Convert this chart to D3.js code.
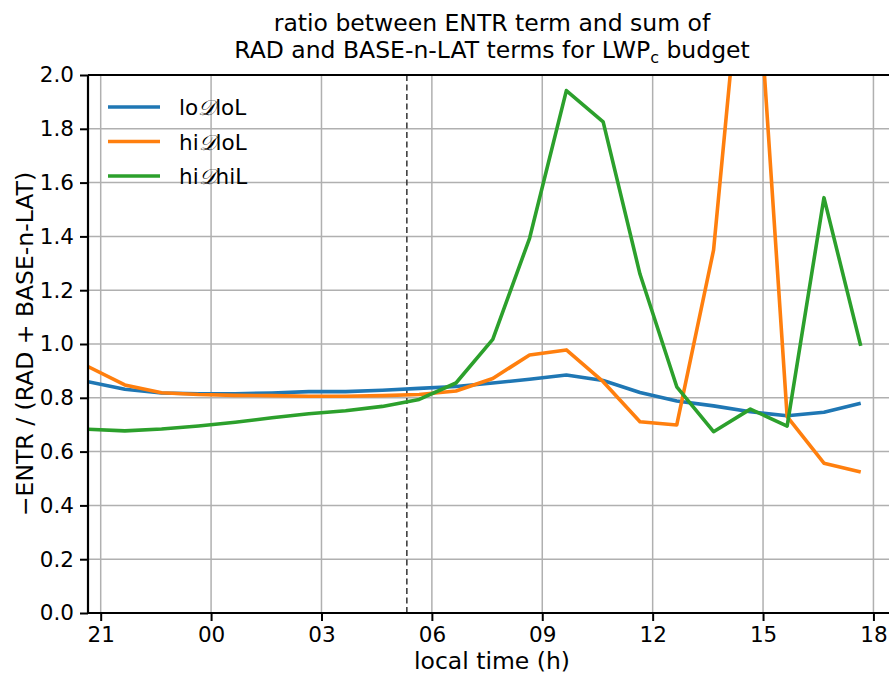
<!DOCTYPE html>
<html>
<head>
<meta charset="utf-8">
<script src="https://cdn.jsdelivr.net/npm/d3@7"></script>
<style>
  body { margin: 0; background: #fff; }
  svg text { font-family: "DejaVu Sans", sans-serif; fill: #000; }
  .grid line { stroke: #b0b0b0; stroke-width: 1.5; }
</style>
</head>
<body>
<div id="chart"></div>
<script>
// local time in hours (hours after 24 are the next day)
var hours = [20.655, 21.655, 22.655, 23.655, 24.655, 25.655, 26.655, 27.655, 28.655, 29.655, 30.655,
             31.655, 32.655, 33.655, 34.655, 35.655, 36.655, 37.655, 38.655, 39.655, 40.655, 41.655];

var loDloL = [0.860, 0.832, 0.818, 0.815, 0.815, 0.818, 0.823, 0.823, 0.828, 0.835, 0.842,
              0.855, 0.869, 0.885, 0.864, 0.820, 0.788, 0.770, 0.748, 0.733, 0.746, 0.780];
var hiDloL = [0.916, 0.848, 0.819, 0.812, 0.809, 0.808, 0.806, 0.806, 0.808, 0.812, 0.825,
              0.872, 0.959, 0.978, 0.860, 0.711, 0.699, 1.349, 2.790, 0.730, 0.557, 0.524];
var hiDhiL = [0.683, 0.677, 0.684, 0.695, 0.709, 0.726, 0.741, 0.752, 0.768, 0.794, 0.855,
              1.017, 1.393, 1.942, 1.826, 1.260, 0.841, 0.674, 0.758, 0.695, 1.544, 0.993];

var seriesNames = ["lo", "hi", "hi"];
var seriesTails = ["loL", "loL", "hiL"];
var seriesColors = ["#1f77b4", "#ff7f0e", "#2ca02c"];

var xTicks = [21, 24, 27, 30, 33, 36, 39, 42];
var yTicks = [0, 0.2, 0.4, 0.6, 0.8, 1.0, 1.2, 1.4, 1.6, 1.8, 2.0];
var sunrise = 29.32;

var width = 889, height = 677;
var margin = {top: 75, right: -1, bottom: 64, left: 88};
var innerW = width - margin.left - margin.right,
    innerH = height - margin.top - margin.bottom;

var svg = d3.select("#chart").append("svg")
    .attr("width", width)
    .attr("height", height);

var x = d3.scaleLinear().domain([20.655, 42.45]).range([0, innerW]);
var y = d3.scaleLinear().domain([0, 2.0]).range([innerH, 0]);

var g = svg.append("g")
    .attr("transform", "translate(" + margin.left + "," + margin.top + ")");

g.append("clipPath").attr("id", "clip")
  .append("rect").attr("width", innerW).attr("height", innerH);

// grid
var grid = g.append("g").attr("class", "grid");
grid.selectAll("line.v").data(xTicks).enter().append("line")
    .attr("x1", function(d) { return x(d); }).attr("x2", function(d) { return x(d); })
    .attr("y1", 0).attr("y2", innerH);
grid.selectAll("line.h").data(yTicks).enter().append("line")
    .attr("x1", 0).attr("x2", innerW)
    .attr("y1", function(d) { return y(d); }).attr("y2", function(d) { return y(d); });

// sunrise marker
g.append("line")
    .attr("x1", x(sunrise)).attr("x2", x(sunrise))
    .attr("y1", 0).attr("y2", innerH)
    .attr("stroke", "#333").attr("stroke-width", 1.5)
    .attr("stroke-dasharray", "6,3.5");

// lines
var line = d3.line()
    .x(function(d) { return x(d[0]); })
    .y(function(d) { return y(d[1]); });

var allSeries = [loDloL, hiDloL, hiDhiL];
var lines = g.append("g").attr("clip-path", "url(#clip)");
allSeries.forEach(function(vals, i) {
  lines.append("path")
      .datum(hours.map(function(h, j) { return [h, vals[j]]; }))
      .attr("fill", "none")
      .attr("stroke", seriesColors[i])
      .attr("stroke-width", 3.6)
      .attr("stroke-linejoin", "round")
      .attr("d", line);
});

// axes
var xAxis = g.append("g")
    .attr("transform", "translate(0," + innerH + ")")
    .call(d3.axisBottom(x).tickValues(xTicks)
          .tickFormat(function(d) { return d3.format("02d")(d % 24); })
          .tickSize(8).tickPadding(6));
var yAxis = g.append("g")
    .call(d3.axisLeft(y).tickValues(yTicks)
          .tickFormat(d3.format(".1f"))
          .tickSize(8).tickPadding(6));

[xAxis, yAxis].forEach(function(a) {
  a.select(".domain").remove();
  a.selectAll("line").attr("stroke", "#000").attr("stroke-width", 2);
  a.selectAll("text").style("font-size", "21.5px").attr("fill", "#000");
});

// spines
g.append("line").attr("x1", 0).attr("x2", 0).attr("y1", 0).attr("y2", innerH)
    .attr("stroke", "#000").attr("stroke-width", 2.2);
g.append("line").attr("x1", 0).attr("x2", innerW).attr("y1", innerH).attr("y2", innerH)
    .attr("stroke", "#000").attr("stroke-width", 2.2);
g.append("line").attr("x1", 0).attr("x2", innerW).attr("y1", 0).attr("y2", 0)
    .attr("stroke", "#000").attr("stroke-width", 2.2);

// labels
svg.append("text")
    .attr("x", 492).attr("y", 669)
    .attr("text-anchor", "middle")
    .style("font-size", "23.5px")
    .text("local time (h)");

svg.append("text")
    .attr("transform", "translate(33," + (margin.top + innerH / 2) + ") rotate(-90)")
    .attr("text-anchor", "middle")
    .style("font-size", "23.5px")
    .text("\u2212ENTR / (RAD + BASE-n-LAT)");

var title = svg.append("text")
    .attr("text-anchor", "middle")
    .style("font-size", "23.5px");
title.append("tspan").attr("x", 492).attr("y", 31)
    .text("ratio between ENTR term and sum of");
var t2 = title.append("tspan").attr("x", 492).attr("y", 58);
t2.append("tspan").text("RAD and BASE-n-LAT terms for LWP");
t2.append("tspan").attr("dy", 5).style("font-size", "16px").text("c");
t2.append("tspan").attr("dy", -5).text(" budget");

// legend
var legend = svg.append("g").attr("transform", "translate(108,107)");
seriesColors.forEach(function(c, i) {
  var row = legend.append("g").attr("transform", "translate(0," + (i * 34.5) + ")");
  row.append("line").attr("x1", 0).attr("x2", 52).attr("y1", 0).attr("y2", 0)
      .attr("stroke", c).attr("stroke-width", 3.6);
  var t = row.append("text").attr("x", 71).attr("y", 8).style("font-size", "21.5px");
  t.append("tspan").text(seriesNames[i]);
  t.append("tspan").style("font-family", "'DejaVu Serif', serif")
      .style("font-style", "italic").text("\uD835\uDC9F");
  t.append("tspan").text(seriesTails[i]);
});
</script>
</body>
</html>
